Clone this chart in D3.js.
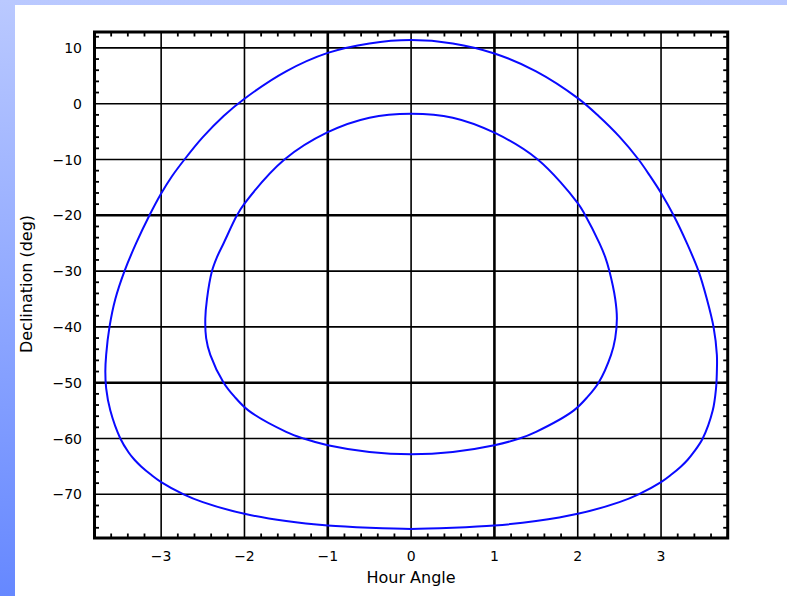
<!DOCTYPE html>
<html>
<head>
<meta charset="utf-8">
<script src="https://cdn.jsdelivr.net/npm/d3@7"></script>
<style>
  html, body { margin: 0; padding: 0; background: #fff; }
  svg { display: block; }
  text { font-family: "DejaVu Sans", sans-serif; fill: #000; }
</style>
</head>
<body>
<svg id="chart" width="787" height="596"></svg>
<script>
// Altitude-limit contours: hour angle (h) vs declination (deg), traced clockwise from the top
const outerHA  = [0, 0.5, 1.0, 1.5, 2.0, 2.25, 2.5, 2.73, 2.87, 3.0, 3.15, 3.31, 3.45, 3.55, 3.63, 3.67, 3.67, 3.66, 3.62, 3.50, 3.39, 3.32, 3.24, 3.12, 3.0, 2.73, 2.5, 2.0, 1.5, 1.0, 0.5,
                  0, -0.5, -1.0, -1.5, -2.0, -2.5, -2.73, -3.0, -3.12, -3.24, -3.32, -3.39, -3.49, -3.61, -3.66, -3.67, -3.66, -3.62, -3.55, -3.44, -3.30, -3.14, -3.0, -2.87, -2.72, -2.5, -2.25, -2.0, -1.5, -1.0, -0.5];
const outerDec = [11.4, 10.8, 9.0, 5.8, 1.0, -2.2, -5.9, -10, -13, -16.0, -20, -25, -30, -35, -40, -45, -48, -51, -55, -60, -62.5, -63.8, -65, -66.5, -67.8, -70, -71.4, -73.5, -74.8, -75.6, -76.0,
                  -76.2, -76.0, -75.6, -74.8, -73.5, -71.4, -70, -67.8, -66.5, -65, -63.8, -62.5, -60, -55, -51, -48, -45, -40, -35, -30, -25, -20, -16.1, -13, -10, -6.0, -2.2, 0.9, 5.8, 9.1, 10.8];

const innerHA  = [0, 0.5, 1.0, 1.52, 2.0, 2.09, 2.26, 2.33, 2.38, 2.45, 2.47, 2.45, 2.40, 2.25, 2.12, 1.95, 1.5, 1.30, 1.0, 0.5,
                  0, -0.5, -1.0, -1.29, -1.5, -1.95, -2.12, -2.25, -2.41, -2.46, -2.47, -2.45, -2.39, -2.33, -2.25, -2.09, -2.0, -1.52, -1.0, -0.5];
const innerDec = [-1.8, -2.5, -5.2, -10, -17.8, -20, -25, -27.5, -30, -35, -38.5, -42, -45, -50, -52.5, -55, -58.8, -60, -61.2, -62.4,
                  -62.8, -62.4, -61.2, -60, -58.8, -55, -52.5, -50, -45, -42, -38.5, -35, -30, -27.5, -25, -20, -17.9, -10, -5.1, -2.5];

const xTicks = [-3, -2, -1, 0, 1, 2, 3];
const yTicks = [-70, -60, -50, -40, -30, -20, -10, 0, 10];
const xBold = [-1, 1];
const yBold = [-20, -50];

const svg = d3.select("#chart");
const W = 787, H = 596;

// page backdrop: blue gradient edge with white panel
const defs = svg.append("defs");
const grad = defs.append("linearGradient").attr("id", "edge")
  .attr("x1", 0).attr("y1", 0).attr("x2", 0).attr("y2", 1);
grad.append("stop").attr("offset", "0%").attr("stop-color", "#bac9ff");
grad.append("stop").attr("offset", "100%").attr("stop-color", "#6688ff");
svg.append("rect").attr("width", W).attr("height", H).attr("fill", "url(#edge)");
svg.append("rect").attr("x", 15).attr("y", 5).attr("width", W - 15).attr("height", H - 5).attr("fill", "#fff");

const L = 94.5, R = 727.7, T = 32, B = 538;
const x = d3.scaleLinear().domain([-3.8, 3.8]).range([L, R]);
const y = d3.scaleLinear().domain([-77.83, 12.85]).range([B, T]);

const g = svg.append("g");

// grid lines at major ticks
g.selectAll(".vgrid").data(xTicks).join("line")
  .attr("x1", d => x(d)).attr("x2", d => x(d)).attr("y1", T).attr("y2", B)
  .attr("stroke", "#000").attr("stroke-width", d => xBold.includes(d) ? 2.6 : 1.6);
g.selectAll(".hgrid").data(yTicks).join("line")
  .attr("x1", L).attr("x2", R).attr("y1", d => y(d)).attr("y2", d => y(d))
  .attr("stroke", "#000").attr("stroke-width", d => yBold.includes(d) ? 2.6 : 1.6);

// minor ticks on all four sides, pointing inward
const xMinor = d3.range(-38, 39, 2).map(v => v / 10).filter(v => Math.abs(v - Math.round(v)) > 1e-6);
const yMinor = d3.range(-76, 13, 2).filter(v => v % 10 !== 0);
const tl = 4.5;
g.selectAll(".xminB").data(xMinor).join("line")
  .attr("x1", d => x(d)).attr("x2", d => x(d)).attr("y1", B).attr("y2", B - tl)
  .attr("stroke", "#000").attr("stroke-width", 1.8);
g.selectAll(".xminT").data(xMinor).join("line")
  .attr("x1", d => x(d)).attr("x2", d => x(d)).attr("y1", T).attr("y2", T + tl)
  .attr("stroke", "#000").attr("stroke-width", 1.8);
g.selectAll(".yminL").data(yMinor).join("line")
  .attr("x1", L).attr("x2", L + tl).attr("y1", d => y(d)).attr("y2", d => y(d))
  .attr("stroke", "#000").attr("stroke-width", 1.8);
g.selectAll(".yminR").data(yMinor).join("line")
  .attr("x1", R).attr("x2", R - tl).attr("y1", d => y(d)).attr("y2", d => y(d))
  .attr("stroke", "#000").attr("stroke-width", 1.8);

// contours
const line = d3.line().x(d => x(d[0])).y(d => y(d[1])).curve(d3.curveCatmullRomClosed.alpha(0.5));
const outer = d3.zip(outerHA, outerDec);
const inner = d3.zip(innerHA, innerDec);
g.append("path").attr("d", line(outer)).attr("fill", "none").attr("stroke", "#0a0aff").attr("stroke-width", 2);
g.append("path").attr("d", line(inner)).attr("fill", "none").attr("stroke", "#0a0aff").attr("stroke-width", 2);

// frame
g.append("rect").attr("x", L).attr("y", T).attr("width", R - L).attr("height", B - T)
  .attr("fill", "none").attr("stroke", "#000").attr("stroke-width", 3);

const fmt = v => v < 0 ? "\u2212" + Math.abs(v) : String(v);

// tick labels
svg.selectAll(".xl").data(xTicks).join("text")
  .attr("x", d => x(d)).attr("y", 561).attr("text-anchor", "middle")
  .attr("font-size", 14).text(fmt);
svg.selectAll(".yl").data(yTicks).join("text")
  .attr("x", 82).attr("y", d => y(d)).attr("dy", "0.36em").attr("text-anchor", "end")
  .attr("font-size", 14).text(fmt);

// axis titles
svg.append("text").attr("x", 411).attr("y", 583).attr("text-anchor", "middle")
  .attr("font-size", 16).text("Hour Angle");
svg.append("text").attr("transform", "translate(31.5,284) rotate(-90)")
  .attr("text-anchor", "middle").attr("font-size", 16).text("Declination (deg)");
</script>
</body>
</html>
